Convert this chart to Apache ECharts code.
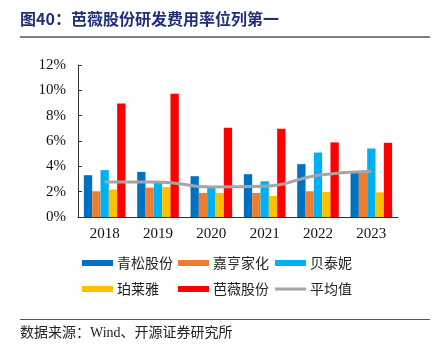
<!DOCTYPE html>
<html><head><meta charset="utf-8">
<script src="https://cdn.jsdelivr.net/npm/echarts@6/dist/echarts.min.js"></script>
<style>html,body{margin:0;padding:0;background:#fff}#c{width:444px;height:356px}</style>
</head><body><div id="c"></div>
<script>
var categories = ['2018','2019','2020','2021','2022','2023'];
var qingsong = [3.30, 3.56, 3.22, 3.38, 4.17, 3.48];
var jiaheng = [2.03, 2.32, 1.90, 1.90, 2.03, 3.56];
var beitaini = [3.70, 2.77, 2.30, 2.82, 5.09, 5.41];
var bolaiya = [2.17, 2.37, 1.90, 1.66, 1.98, 1.95];
var bawei = [8.97, 9.73, 7.04, 6.96, 5.89, 5.86];
var average = [2.77, 2.77, 2.37, 2.43, 3.30, 3.62];
var yTicks = [0, 2, 4, 6, 8, 10, 12];

var cjk = '"Liberation Serif", "Noto Sans CJK SC", serif';
var chart = echarts.init(document.getElementById('c'));
function bar(name, data, color) {
  return {name: name, type: 'bar', data: data, barGap: '0%', barCategoryGap: '22%',
    itemStyle: {color: color}};
}
function leg(name, left, top, icon) {
  return {top: top, left: left, itemWidth: 31, itemHeight: 6, padding: 0,
    textStyle: {fontSize: 14, color: '#222', fontFamily: '"Noto Sans CJK SC", sans-serif', padding: [0,0,0,-1]},
    data: [{name: name, icon: icon}]};
}
chart.setOption({
  animation: false,
  textStyle: {fontFamily: cjk},
  graphic: [
    {type: 'text', left: 20, top: 11, style: {text: '图40：芭薇股份研发费用率位列第一', fill: '#1f2f7a', font: 'bold 16px "Noto Sans CJK SC", sans-serif'}},
    {type: 'rect', shape: {x: 20, y: 36, width: 410, height: 2}, style: {fill: '#7f7f7f'}},
    {type: 'rect', shape: {x: 20, y: 319, width: 410, height: 1}, style: {fill: '#555'}},
    {type: 'text', left: 20, top: 326, style: {text: '数据来源：Wind、开源证券研究所', fill: '#222', font: '14px "Liberation Serif", "Noto Sans CJK SC", serif'}}
  ],
  grid: {left: 78, right: 46, top: 65, bottom: 139},
  legend: [
    leg('青松股份', 82, 256, 'rect'),
    leg('嘉亨家化', 178, 256, 'rect'),
    leg('贝泰妮', 275, 256, 'rect'),
    leg('珀莱雅', 82, 282, 'rect'),
    leg('芭薇股份', 178, 282, 'rect'),
    leg('平均值', 275, 282, 'path://M0,0 L31,0 L31,3 L0,3 Z')
  ],
  xAxis: {type: 'category', data: categories,
    axisLine: {lineStyle: {color: '#333', width: 1}},
    axisTick: {inside: true, length: 4, lineStyle: {color: '#333'}},
    axisLabel: {fontSize: 15, color: '#111', margin: 10, fontFamily: '"Liberation Serif", serif'}},
  yAxis: {type: 'value', min: 0, max: 12, interval: 2,
    splitLine: {show: false},
    axisLine: {show: true, lineStyle: {color: '#333'}},
    axisTick: {show: true, inside: true, length: 4, lineStyle: {color: '#333'}},
    axisLabel: {fontSize: 15, color: '#111', margin: 12, fontFamily: '"Liberation Serif", serif',
      formatter: function(v){ return yTicks.indexOf(v) >= 0 ? v + '%' : ''; }}},
  series: [
    bar('青松股份', qingsong, '#0070c0'),
    bar('嘉亨家化', jiaheng, '#ed7d31'),
    bar('贝泰妮', beitaini, '#00b0f0'),
    bar('珀莱雅', bolaiya, '#ffc000'),
    bar('芭薇股份', bawei, '#ff0000'),
    {name: '平均值', type: 'line', data: average, smooth: true, symbol: 'none',
     itemStyle: {color: '#a5a5a5'}, lineStyle: {color: '#a5a5a5', width: 3}}
  ]
});
</script></body></html>
